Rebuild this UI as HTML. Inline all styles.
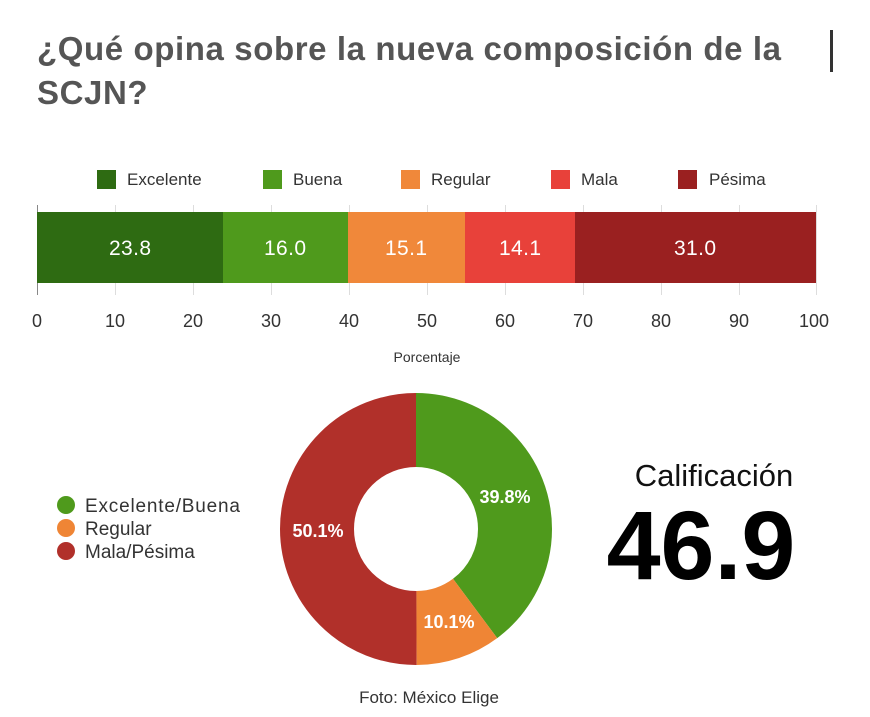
<!DOCTYPE html>
<html><head><meta charset="utf-8"><style>
body{margin:0;width:870px;height:717px;background:#fff;overflow:hidden;position:relative;font-family:"Liberation Sans",sans-serif}
.a{position:absolute;white-space:nowrap}
</style></head><body>
<div class="a" style="left:37px;top:27px;font-size:33px;letter-spacing:0.6px;font-weight:bold;color:#555;line-height:44px">¿Qué opina sobre la nueva composición de la<br>SCJN?</div>
<div class="a" style="left:830px;top:30px;width:3px;height:42px;background:#333"></div>
<svg class="a" style="left:0;top:0" width="870" height="717">
<g font-family="Liberation Sans, sans-serif" font-size="17" fill="#333">
<rect x="97" y="170" width="19" height="19" fill="#2e6b12"/><text x="127" y="185">Excelente</text>
<rect x="263" y="170" width="19" height="19" fill="#4f9a1c"/><text x="293" y="185">Buena</text>
<rect x="401" y="170" width="19" height="19" fill="#f0883a"/><text x="431" y="185">Regular</text>
<rect x="551" y="170" width="19" height="19" fill="#e8413a"/><text x="581" y="185">Mala</text>
<rect x="678" y="170" width="19" height="19" fill="#9a2020"/><text x="709" y="185">Pésima</text>
</g>
<g stroke="#ddd" stroke-width="1">
<line x1="37.5" y1="205" x2="37.5" y2="295" stroke="#888"/>
<line x1="115.5" y1="205" x2="115.5" y2="295"/><line x1="193.5" y1="205" x2="193.5" y2="295"/><line x1="271.5" y1="205" x2="271.5" y2="295"/><line x1="349.5" y1="205" x2="349.5" y2="295"/><line x1="427.5" y1="205" x2="427.5" y2="295"/><line x1="505.5" y1="205" x2="505.5" y2="295"/><line x1="583.5" y1="205" x2="583.5" y2="295"/><line x1="661.5" y1="205" x2="661.5" y2="295"/><line x1="739.5" y1="205" x2="739.5" y2="295"/><line x1="816.5" y1="205" x2="816.5" y2="295"/>
</g>
<rect x="37" y="212" width="186" height="71" fill="#2e6b12"/>
<rect x="223" y="212" width="125" height="71" fill="#4f9a1c"/>
<rect x="348" y="212" width="117" height="71" fill="#f0883a"/>
<rect x="465" y="212" width="110" height="71" fill="#e8413a"/>
<rect x="575" y="212" width="241" height="71" fill="#9a2020"/>
<g font-family="Liberation Sans, sans-serif" font-size="21" fill="#fff" text-anchor="middle">
<text x="130" y="255" textLength="42">23.8</text><text x="285" y="255" textLength="42">16.0</text><text x="406" y="255" textLength="42">15.1</text><text x="520" y="255" textLength="42">14.1</text><text x="695" y="255" textLength="42">31.0</text>
</g>
<g font-family="Liberation Sans, sans-serif" font-size="18" fill="#333" text-anchor="middle">
<text x="37" y="327">0</text><text x="115" y="327">10</text><text x="193" y="327">20</text><text x="271" y="327">30</text><text x="349" y="327">40</text><text x="427" y="327">50</text><text x="505" y="327">60</text><text x="583" y="327">70</text><text x="661" y="327">80</text><text x="739" y="327">90</text><text x="814" y="327">100</text>
<text x="427" y="362" font-size="14">Porcentaje</text>
</g>
<g transform="rotate(-90 416 529)" fill="none" stroke-width="74">
<circle cx="416" cy="529" r="99" stroke="#4f9a1c" stroke-dasharray="247.57 1000"/>
<circle cx="416" cy="529" r="99" stroke="#ef8535" stroke-dasharray="0 247.57 62.83 1000"/>
<circle cx="416" cy="529" r="99" stroke="#b1302a" stroke-dasharray="0 310.4 311.7 1000"/>
</g>
<g font-family="Liberation Sans, sans-serif" font-size="18" font-weight="bold" fill="#fff" text-anchor="middle">
<text x="505" y="503">39.8%</text><text x="449" y="628">10.1%</text><text x="318" y="537">50.1%</text>
</g>
<circle cx="66" cy="505" r="9" fill="#4f9a1c"/><circle cx="66" cy="528" r="9" fill="#ef8535"/><circle cx="66" cy="551" r="9" fill="#b1302a"/>
<g font-family="Liberation Sans, sans-serif" font-size="19" fill="#333">
<text x="85" y="512" textLength="155">Excelente/Buena</text><text x="85" y="535">Regular</text><text x="85" y="558">Mala/Pésima</text>
</g>
<text x="714" y="486" text-anchor="middle" font-family="Liberation Sans, sans-serif" font-size="31" fill="#111">Calificación</text>
<text x="701" y="579" text-anchor="middle" font-family="Liberation Sans, sans-serif" font-size="97" font-weight="bold" fill="#000">46.9</text>
<text x="429" y="703" text-anchor="middle" font-family="Liberation Sans, sans-serif" font-size="17" fill="#333">Foto: México Elige</text>
</svg>
</body></html>
